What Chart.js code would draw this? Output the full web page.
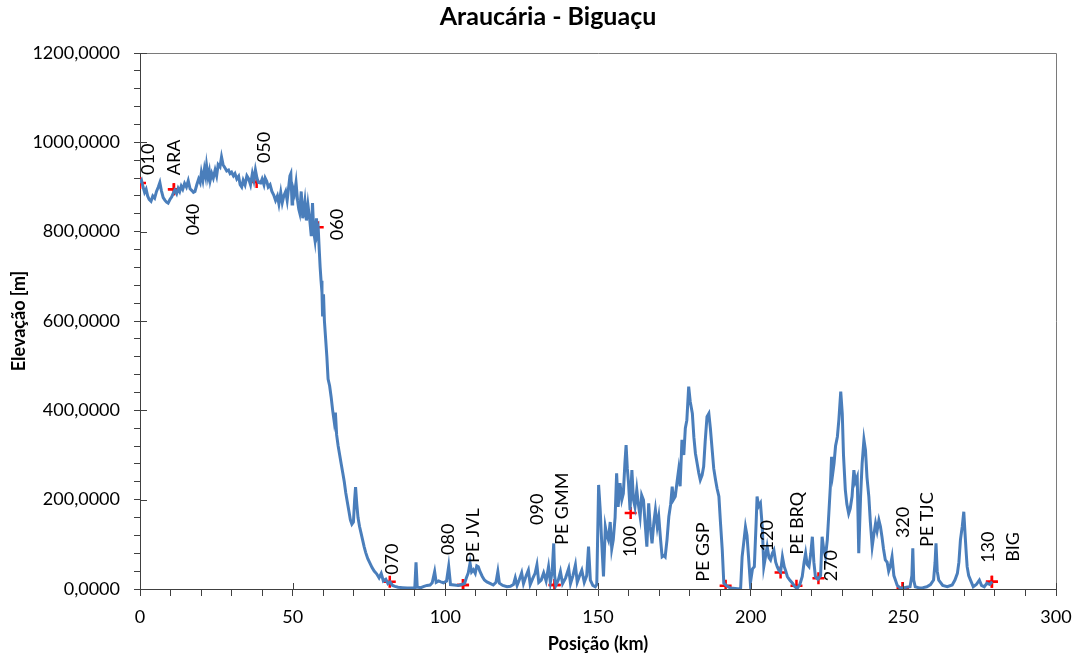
<!DOCTYPE html>
<html>
<head>
<meta charset="utf-8">
<title>Araucária - Biguaçu</title>
<script src="https://cdn.jsdelivr.net/npm/chart.js@4.4.1/dist/chart.umd.min.js"></script>
<style>
  html, body { margin: 0; padding: 0; background: #fff; }
  #chart { display: block; }
</style>
</head>
<body>
<canvas id="chart" width="1082" height="659"></canvas>
<script>
// elevation profile: position (km) and elevation (m)
const profileKm = [
  0.0, 0.5, 1.0, 1.5, 2.0, 2.5, 3.0, 3.6, 4.2, 4.8,
  5.4, 6.0, 6.5, 7.0, 7.6, 8.2, 8.7, 9.2, 9.8, 10.4,
  11.0, 11.4, 12.0, 12.5, 13.0, 13.5, 14.0, 14.6, 15.2, 15.8,
  16.4, 17.0, 17.5, 18.0, 18.6, 19.2, 19.7, 20.1, 20.6, 21.1,
  21.5, 21.8, 22.3, 22.7, 23.0, 23.5, 24.0, 24.6, 25.1, 25.6,
  26.2, 26.7, 27.2, 27.9, 28.4, 29.0, 29.5, 30.0, 30.6, 31.1,
  31.7, 32.3, 32.8, 33.3, 33.8, 34.4, 35.0, 35.6, 36.2, 36.8,
  37.3, 37.8, 38.3, 38.8, 39.5, 40.0, 40.6, 41.0, 41.5, 42.0,
  42.6, 43.2, 43.8, 44.4, 45.0, 45.5, 46.1, 46.6, 47.1, 47.7,
  48.2, 48.7, 49.1, 49.4, 49.8, 50.0, 50.6, 51.1, 51.6, 52.0,
  52.3, 52.8, 53.3, 54.0, 54.5, 55.0, 55.6, 56.1, 56.5, 56.9,
  57.3, 57.8, 58.1, 58.4, 58.7, 59.0, 59.3, 59.6, 59.8, 60.1,
  60.4, 60.8, 61.2, 61.6, 62.1, 62.6, 63.1, 63.6, 64.0, 64.4,
  64.9, 65.4, 65.9, 66.4, 66.9, 67.4, 67.9, 68.4, 68.9, 69.4,
  69.9, 70.3, 70.6, 71.0, 71.4, 71.9, 72.4, 72.9, 73.4, 73.9,
  74.6, 75.3, 76.0, 76.7, 77.5, 78.3, 79.0, 79.7, 80.5, 81.2,
  81.9, 82.7, 83.5, 84.5, 86.0, 87.5, 89.0, 90.0, 90.4, 90.8,
  92.0, 93.0, 94.0, 95.0, 95.7, 96.5, 97.0, 97.8, 98.5, 99.4,
  100.4, 101.1, 101.7, 102.9, 104.3, 105.3, 106.3, 106.9, 107.5, 108.1,
  108.6, 109.2, 109.8, 110.3, 110.8, 111.3, 112.1, 112.8, 113.6, 114.8,
  115.7, 116.6, 117.2, 117.7, 118.8, 120.2, 121.3, 122.3, 122.9, 123.5,
  124.2, 125.0, 125.6, 126.5, 127.2, 127.8, 128.7, 129.4, 130.0, 130.6,
  131.4, 132.2, 133.0, 133.8, 134.4, 135.0, 135.5, 135.8, 136.2, 137.0,
  137.7, 138.4, 139.4, 140.4, 141.0, 141.8, 142.6, 143.2, 144.0, 144.7,
  145.5, 146.3, 146.9, 147.5, 148.3, 149.1, 149.6, 150.2, 150.7, 151.1,
  151.8, 152.4, 152.9, 153.4, 154.0, 154.5, 155.0, 155.6, 156.1, 156.6,
  157.2, 157.8, 158.3, 158.8, 159.2, 159.6, 160.0, 160.5, 161.1, 161.6,
  162.1, 162.7, 163.2, 163.8, 164.3, 164.9, 165.4, 166.0, 166.6, 167.1,
  167.7, 168.3, 168.8, 169.4, 169.9, 170.5, 171.0, 171.6, 172.0, 172.6,
  173.2, 173.8, 174.3, 174.7, 175.3, 175.9, 176.4, 176.9, 177.5, 178.1,
  178.6, 179.1, 179.7, 180.2, 180.9, 181.4, 181.9, 182.5, 183.0, 183.5,
  184.1, 184.6, 185.1, 185.7, 186.3, 186.8, 187.4, 187.9, 188.5, 189.0,
  189.6, 190.1, 190.7, 191.2, 192.1, 193.4, 194.9, 196.7, 197.2, 197.7,
  198.3, 198.8, 199.3, 199.9, 200.6, 201.2, 201.8, 202.1, 202.6, 203.2,
  203.8, 204.3, 204.8, 205.4, 206.0, 206.5, 207.1, 207.6, 208.2, 208.7,
  209.2, 209.8, 210.4, 211.0, 211.5, 212.0, 212.8, 213.7, 214.5, 215.3,
  216.1, 216.9, 217.5, 218.0, 218.5, 219.1, 219.7, 220.2, 220.7, 221.2,
  222.0, 222.9, 223.4, 223.9, 224.5, 225.1, 225.6, 226.1, 226.5, 226.9,
  227.3, 227.8, 228.4, 228.9, 229.5, 230.0, 230.4, 231.0, 231.5, 232.1,
  232.6, 233.2, 233.8, 234.3, 234.9, 235.4, 236.0, 236.5, 237.1, 237.6,
  238.1, 238.7, 239.2, 239.8, 240.3, 240.9, 241.4, 242.0, 242.5, 243.0,
  243.5, 244.1, 244.7, 245.2, 245.7, 246.3, 246.9, 247.4, 248.0, 249.0,
  250.0, 251.0, 252.2, 252.8, 253.1, 253.4, 253.9, 255.4, 256.4, 257.7,
  258.9, 259.9, 260.4, 260.7, 261.1, 261.6, 262.9, 264.4, 266.0, 266.9,
  267.7, 268.2, 268.7, 269.3, 269.8, 270.2, 270.6, 270.9, 271.4, 272.0,
  272.9, 273.9, 274.9, 275.6, 276.5, 277.4, 278.3, 279.1
];
const profileElev = [
  909, 915, 900, 888, 895, 880, 872, 868, 880, 875,
  890, 900, 910, 892, 876, 870, 866, 864, 872, 878,
  888, 893, 885, 897, 890, 902, 895, 908, 900, 914,
  896, 892, 888, 890, 905, 918, 910, 932, 915, 940,
  925, 948, 922, 935, 915, 930, 920, 938, 925, 950,
  945, 967, 950, 942, 936, 938, 930, 933, 925, 930,
  918, 924, 905, 900, 915, 905, 925, 918, 905, 930,
  915, 938, 920, 910, 909, 918, 905, 920, 913, 900,
  905, 890, 882, 870, 880, 862, 888, 865, 880, 890,
  870, 900, 925, 930, 862, 900, 885, 910, 870, 850,
  842, 890, 830, 868, 825, 860, 826, 790, 864, 800,
  781, 830, 795, 803, 760, 720, 690, 664, 610, 660,
  600, 560, 520, 470, 455, 430, 400, 375, 395, 345,
  320, 300, 280, 260, 240, 215, 195, 175, 155, 145,
  150, 200, 228, 190, 160, 140, 125, 110, 95, 82,
  68, 58, 48, 40, 34, 25, 35, 18, 22, 12,
  16, 8, 6, 4, 3, 2, 2, 3, 60, 4,
  3, 6, 8, 9, 14, 39, 15, 18, 16, 14,
  18, 51, 10, 9, 8, 10, 12, 25, 36, 58,
  38, 43, 35, 52, 50, 40, 28, 20, 16, 12,
  9, 15, 39, 13, 8, 5, 6, 10, 25, 8,
  20, 36, 12, 30, 42, 10, 25, 35, 54, 15,
  20, 36, 18, 50, 15, 40, 102, 30, 8, 20,
  39, 12, 25, 46, 12, 30, 54, 15, 30, 42,
  15, 30, 95, 20, 8, 5, 10, 233, 180, 120,
  28, 139, 120, 110, 150, 90, 110, 160, 259, 184,
  237, 200, 214, 280, 322, 270, 237, 177, 266, 200,
  184, 222, 190, 162, 210, 199, 150, 95, 192, 140,
  102, 150, 177, 140, 162, 110, 72, 75, 72, 110,
  162, 190, 229, 200, 207, 240, 266, 230, 334, 300,
  360, 378, 453, 420, 393, 340, 304, 280, 260, 244,
  255, 274, 330, 386, 393, 360, 311, 270, 244, 225,
  207, 150, 87, 13, 7, 2, 1, 0, 72, 102,
  139, 120, 72, 13, 45, 50, 150, 207, 185, 192,
  139, 50, 70, 95, 70, 65, 80, 87, 60, 50,
  42, 38, 72, 50, 40, 28, 20, 13, 5, 2,
  10, 28, 60, 80, 55, 50, 80, 117, 60, 28,
  22, 30, 117, 90, 72, 110, 169, 230, 296, 260,
  281, 320, 341, 380, 442, 393, 300, 222, 190, 169,
  180, 207, 266, 240, 251, 80, 207, 280, 334, 311,
  250, 207, 150, 95, 120, 147, 130, 154, 140, 117,
  90, 65, 60, 40, 50, 72, 30, 20, 8, 2,
  2, 4, 5, 30, 91, 20, 5, 2, 3, 5,
  10, 20, 60, 102, 40, 20, 8, 5, 9, 20,
  35, 60, 110, 140, 173, 125, 80, 50, 30, 20,
  5, 10, 20, 8, 5, 13, 10, 16
];

// stations (red crosses) and their labels
const stationNames = ["010", "ARA", "040", "050", "060", "070", "080", "PE JVL", "090", "PE GMM",
                      "100", "PE GSP", "120", "PE BRQ", "270", "320", "PE TJC", "130", "BIG"];
const stationKm = [0, 11.1, 11.1, 38.2, 58.2, 81.8, 105.8, 105.8, 135.8, 135.8,
                   160.7, 191.8, 209.8, 215.0, 222.2, 249.8, 249.8, 279.0, 279.0];
const stationElev = [909, 895, 895, 911, 810, 16, 9, 9, 9, 9,
                     170, 7, 37, 7, 24, 2, 2, 16, 16];

const xMin = 0, xMax = 300, xMajor = 50, xMinor = 10;
const yMin = 0, yMax = 1200, yMajor = 200, yMinor = 40;

// where each station label sits relative to its cross (px: centre x, text start y)
const labelShift = [[8, -8], [0, -14], [19, 46], [8, -19], [19, 13], [2, -7], [-15, -30], [10, -22], [-17, -60], [8, -40],
                    [0, 44], [-22, -4], [-13, -21], [1, -31], [13, 3], [0, -50], [24, -41], [-4, -19], [21, -20]];

const axisColor = "#404040";
const fontFam = "Lato, 'Liberation Sans', sans-serif";

const extras = {
    id: "extras",
    afterDatasetsDraw(chart) {
        const ctx = chart.ctx;
        const xs = chart.scales.x, ys = chart.scales.y;
        ctx.save();
        ctx.fillStyle = "#000";
        ctx.font = "18px " + fontFam;
        ctx.textAlign = "left";
        ctx.textBaseline = "middle";
        for (let i = 0; i < stationNames.length; i++) {
            const px = xs.getPixelForValue(stationKm[i]) + labelShift[i][0];
            const py = ys.getPixelForValue(stationElev[i]) + labelShift[i][1];
            ctx.save();
            ctx.translate(px, py);
            ctx.rotate(-Math.PI / 2);
            ctx.fillText(stationNames[i], 0, 0);
            ctx.restore();
        }
        ctx.restore();
    },
    afterDraw(chart) {
        const ctx = chart.ctx;
        const a = chart.chartArea;
        const xs = chart.scales.x, ys = chart.scales.y;
        ctx.save();
        // plot area frame, top and right
        ctx.strokeStyle = "#7a7a7a";
        ctx.lineWidth = 1;
        ctx.beginPath();
        ctx.moveTo(a.left, a.top + 0.5);
        ctx.lineTo(a.right + 0.5, a.top + 0.5);
        ctx.lineTo(a.right + 0.5, a.bottom);
        ctx.stroke();
        // major ticks cross the axes
        ctx.strokeStyle = axisColor;
        ctx.beginPath();
        for (let v = xMin; v <= xMax; v += xMajor) {
            const px = Math.round(xs.getPixelForValue(v)) + 0.5;
            ctx.moveTo(px, a.bottom);
            ctx.lineTo(px, a.bottom - 6);
        }
        for (let v = yMin; v <= yMax; v += yMajor) {
            const py = Math.round(ys.getPixelForValue(v)) + 0.5;
            ctx.moveTo(a.left, py);
            ctx.lineTo(a.left + 7, py);
        }
        ctx.stroke();
        // title
        ctx.fillStyle = "#000";
        ctx.font = "bold 25px " + fontFam;
        ctx.textAlign = "center";
        ctx.textBaseline = "middle";
        ctx.fillText("Araucária - Biguaçu", 548, 17);
        ctx.restore();
    }
};

new Chart(document.getElementById("chart"), {
    type: "scatter",
    data: {
        datasets: [
            {
                label: "Perfil",
                data: profileKm.map((km, i) => ({ x: km, y: profileElev[i] })),
                showLine: true,
                borderColor: "#4a7ebb",
                borderWidth: 3,
                pointRadius: 0,
                tension: 0,
                order: 0,
            },
            {
                label: "Estações",
                data: stationKm.map((km, i) => ({ x: km, y: stationElev[i] })),
                showLine: false,
                pointStyle: "cross",
                pointRadius: 6,
                borderColor: "#ff0000",
                borderWidth: 2.5,
                order: 1,
            },
        ],
    },
    options: {
        responsive: false,
        animation: false,
        devicePixelRatio: 1,
        layout: { padding: { top: 53, right: 26, left: 0, bottom: 0 } },
        plugins: {
            legend: { display: false },
            tooltip: { enabled: false },
            title: { display: false },
        },
        scales: {
            x: {
                type: "linear",
                min: xMin,
                max: xMax,
                afterFit: (scale) => { scale.height = 70; },
                border: { display: true, color: axisColor, width: 1 },
                grid: { drawOnChartArea: false, drawTicks: true, tickLength: 7, color: axisColor, tickColor: axisColor },
                ticks: {
                    stepSize: xMinor,
                    autoSkip: false,
                    maxRotation: 0,
                    padding: 10,
                    color: "#000",
                    font: { family: fontFam, size: 18 },
                    callback: (v) => (Math.round(v) % xMajor === 0 ? String(Math.round(v)) : ""),
                },
                title: {
                    display: true,
                    text: "Posição (km)",
                    color: "#000",
                    font: { family: fontFam, size: 18, weight: "bold" },
                    padding: { top: 0, bottom: 4 },
                },
            },
            y: {
                type: "linear",
                min: yMin,
                max: yMax,
                afterFit: (scale) => { scale.width = 140; },
                border: { display: true, color: axisColor, width: 1 },
                grid: { drawOnChartArea: false, drawTicks: true, tickLength: 6, color: axisColor, tickColor: axisColor },
                ticks: {
                    stepSize: yMinor,
                    autoSkip: false,
                    padding: 14,
                    color: "#000",
                    font: { family: fontFam, size: 18 },
                    callback: (v) => (Math.round(v) % yMajor === 0 ? v.toFixed(4).replace(".", ",") : ""),
                },
                title: {
                    display: true,
                    text: "Elevação [m]",
                    color: "#000",
                    font: { family: fontFam, size: 18, weight: "bold" },
                    padding: { top: 8, bottom: 0 },
                },
            },
        },
    },
    plugins: [extras],
});
</script>
</body>
</html>
